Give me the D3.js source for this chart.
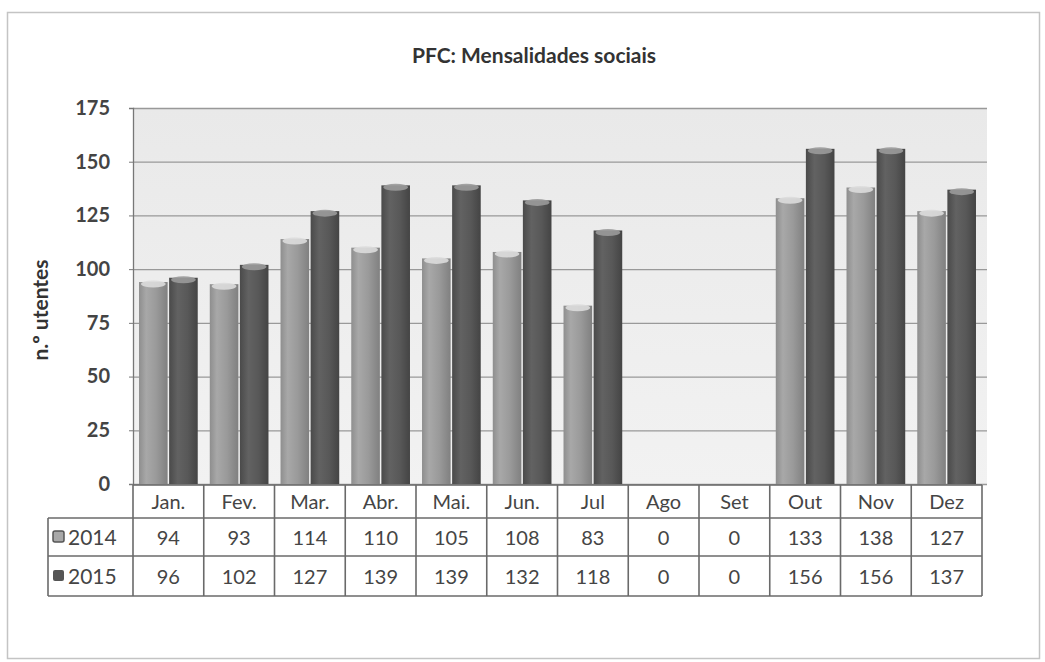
<!DOCTYPE html>
<html>
<head>
<meta charset="utf-8">
<script src="https://cdn.jsdelivr.net/npm/d3@7"></script>
<style>
  body { margin: 0; background: #fff; }
  text { font-family: Lato, "Open Sans", sans-serif; fill: #454545; }
</style>
</head>
<body>
<div class="chart"></div>
<script>
'use strict'

const months = ['Jan.', 'Fev.', 'Mar.', 'Abr.', 'Mai.', 'Jun.', 'Jul', 'Ago', 'Set', 'Out', 'Nov', 'Dez']
const series = ['2014', '2015']
const values2014 = [94, 93, 114, 110, 105, 108, 83, 0, 0, 133, 138, 127]
const values2015 = [96, 102, 127, 139, 139, 132, 118, 0, 0, 156, 156, 137]
const yTicks = [0, 25, 50, 75, 100, 125, 150, 175]

const width = 1045
const height = 662
const plotLeft = 133
const tableRight = 982
const plotRight = 987
const plotTop = 108
const base = 484
const rowTops = [485, 518, 556, 596]

const svg = d3.select('.chart').append('svg')
    .attr('width', width)
    .attr('height', height)

// gradients for the cylinder look
const defs = svg.append('defs')
function cyl(id, stops) {
  const g = defs.append('linearGradient').attr('id', id)
  stops.forEach(([o, c]) => g.append('stop').attr('offset', o).attr('stop-color', c))
}
cyl('g2014', [[0, '#8e8e8e'], [0.25, '#a8a8a8'], [0.6, '#9a9a9a'], [1, '#808080']])
cyl('g2015', [[0, '#4a4a4a'], [0.3, '#626262'], [0.65, '#585858'], [1, '#444']])
const bg = defs.append('linearGradient').attr('id', 'bg').attr('x2', 0).attr('y2', 1)
bg.append('stop').attr('offset', 0).attr('stop-color', '#e9e9e9')
bg.append('stop').attr('offset', 1).attr('stop-color', '#f2f2f2')

// outer frame
svg.append('rect')
    .attr('x', 7.5).attr('y', 12.5)
    .attr('width', 1032).attr('height', 646)
    .style('fill', '#fff').style('stroke', '#c4c4c4').style('stroke-width', 1.5)

svg.append('text')
    .attr('x', 534).attr('y', 63)
    .attr('text-anchor', 'middle')
    .style('font-size', '21px').style('font-weight', 'bold')
    .style('fill', '#333')
    .text('PFC: Mensalidades sociais')

const x = d3.scaleBand().domain(months).range([plotLeft, tableRight])
const xs = d3.scaleBand().domain(series).range([0, x.bandwidth()])
    .paddingInner(0.05).paddingOuter(0.2)
const y = d3.scaleLinear().domain([0, 175]).range([base, plotTop])

// plot area
svg.append('rect')
    .attr('x', plotLeft).attr('y', plotTop)
    .attr('width', plotRight - plotLeft).attr('height', base - plotTop)
    .style('fill', 'url(#bg)')

// gridlines
svg.append('g')
    .attr('transform', `translate(${plotLeft},0)`)
    .call(d3.axisLeft(y).tickValues(yTicks).tickSize(-(plotRight - plotLeft)).tickFormat(''))
    .call(g => g.select('.domain').remove())
    .call(g => g.selectAll('line').style('stroke', '#999').style('stroke-width', 1.3))

// y axis
svg.append('g')
    .attr('transform', `translate(${plotLeft},0)`)
    .call(d3.axisLeft(y).tickValues(yTicks).tickSize(4).tickPadding(19))
    .call(g => g.select('.domain').style('stroke', '#777').style('stroke-width', 1.3))
    .call(g => g.selectAll('line').style('stroke', '#777'))
    .call(g => g.selectAll('text')
        .style('font-size', '20px').style('font-weight', 'bold').style('fill', '#444')
        .style('font-family', 'Lato, sans-serif'))

svg.append('text')
    .attr('transform', 'translate(48,310) rotate(-90)')
    .attr('text-anchor', 'middle')
    .style('font-size', '21px').style('font-weight', 'bold').style('fill', '#333')
    .text('n.º utentes')

// bars
const data = months.map((m, i) => ({ month: m, vals: [
  { key: '2014', v: values2014[i] },
  { key: '2015', v: values2015[i] }
] }))

const groups = svg.selectAll('.grp')
    .data(data)
  .enter().append('g')
    .attr('class', 'grp')
    .attr('transform', d => `translate(${x(d.month)},0)`)

const bars = groups.selectAll('.bar')
    .data(d => d.vals.filter(b => b.v > 0))
  .enter().append('g')
    .attr('class', 'bar')

bars.append('rect')
    .attr('x', d => xs(d.key))
    .attr('y', d => y(d.v))
    .attr('width', xs.bandwidth())
    .attr('height', d => base - y(d.v))
    .style('fill', d => `url(#g${d.key})`)

bars.append('ellipse')
    .attr('cx', d => xs(d.key) + xs.bandwidth() / 2)
    .attr('cy', d => y(d.v) + 2)
    .attr('rx', xs.bandwidth() / 2 - 2)
    .attr('ry', 3.5)
    .style('fill', d => d.key === '2014' ? '#dcdcdc' : '#9a9a9a')
    .style('opacity', 0.9)

// data table
const table = svg.append('g')
const lineStyle = sel => sel.style('stroke', '#6a6a6a').style('stroke-width', 1.6)

// horizontal lines
table.append('line').attr('x1', plotLeft).attr('x2', tableRight).attr('y1', rowTops[0]).attr('y2', rowTops[0]).call(lineStyle)
rowTops.slice(1).forEach(ry => {
  table.append('line').attr('x1', 48).attr('x2', tableRight).attr('y1', ry).attr('y2', ry).call(lineStyle)
})
// vertical lines
months.forEach(m => {
  table.append('line').attr('x1', x(m)).attr('x2', x(m))
      .attr('y1', rowTops[0]).attr('y2', rowTops[3]).call(lineStyle)
})
table.append('line').attr('x1', tableRight).attr('x2', tableRight).attr('y1', rowTops[0]).attr('y2', rowTops[3]).call(lineStyle)
table.append('line').attr('x1', 48).attr('x2', 48).attr('y1', rowTops[1]).attr('y2', rowTops[3]).call(lineStyle)

const cellText = (xp, yp, t) => table.append('text')
    .attr('x', xp).attr('y', yp)
    .attr('text-anchor', 'middle')
    .style('font-size', '20px')
    .text(t)

months.forEach((m, i) => {
  const cx = x(m) + x.bandwidth() / 2
  cellText(cx, 509, m)
  cellText(cx, 545, values2014[i])
  cellText(cx, 584, values2015[i])
})

// legend keys in row headers
const legendRows = [{ key: '2014', y: 537 }, { key: '2015', y: 576 }]
legendRows.forEach(r => {
  table.append('rect')
      .attr('x', 53).attr('y', r.y - 6)
      .attr('width', 11).attr('height', 11)
      .attr('rx', 2)
      .style('fill', r.key === '2014' ? '#a8a8a8' : '#555')
      .style('stroke', r.key === '2014' ? '#555' : 'none')
      .style('stroke-width', 1.5)
  table.append('text')
      .attr('x', 68).attr('y', r.y + 8)
      .style('font-size', '21px')
      .text(r.key)
})
</script>
</body>
</html>
